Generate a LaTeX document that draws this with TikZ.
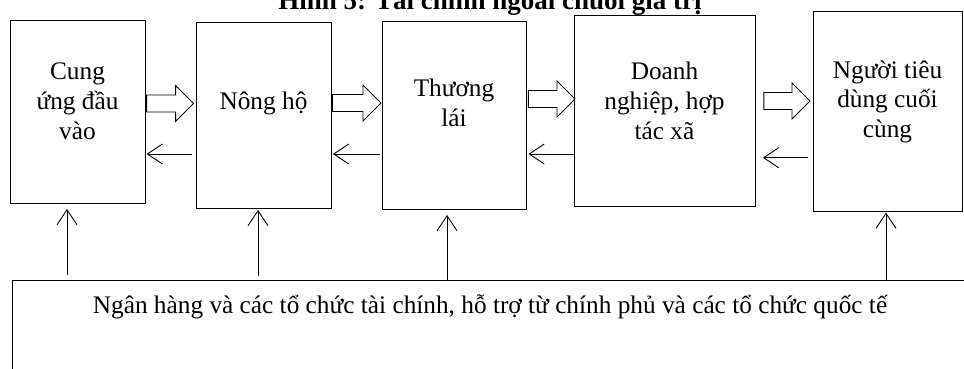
\documentclass[tikz,border=0pt]{standalone}
\usepackage{fontspec}
\setmainfont{Liberation Serif}
\usetikzlibrary{arrows.meta,calc}

\tikzset{
  box/.style={draw, line width=0.9pt, anchor=north west, inner sep=0pt},
  lbl/.style={align=center, font=\fontsize{25.3}{29.5}\selectfont, inner sep=0pt, anchor=base},
  thinarrow/.style={line width=0.9pt, -{Straight Barb[length=15pt,width=20pt,line width=0.9pt]}},
  fatbody/.style={draw, line width=0.9pt, fill=white, line join=miter},
}

% hollow block arrow from node #1 to node #2 at height #3,
% leaving gaps #4 (start) and #5 (tip)
\newcommand\fatarrow[5]{%
  \path (#1.east |- 0,#3) coordinate (fA) (#2.west |- 0,#3) coordinate (fB);
  \draw[fatbody] ($(fA)+(#4,-8.5)$) -- ($(fB)+(-#5-18,-8.5)$) -- ++(0,-9.5)
    -- ($(fB)+(-#5,0)$) -- ($(fB)+(-#5-18,18)$) -- ++(0,-9.5)
    -- ($(fA)+(#4,8.5)$) -- cycle;
}

\begin{document}
\begin{tikzpicture}[x=1pt,y=-1pt]
  \useasboundingbox (0,0) rectangle (964,369);
  \clip (0,0) rectangle (964,369);

  % title
  \node[font=\bfseries\fontsize{27}{30}\selectfont, anchor=base, inner sep=0pt] (title) at (490,10)
    {Hình 5: Tài chính ngoài chuỗi giá trị};

  % chain boxes
  \node[box, minimum width=135, minimum height=183] (b1) at (10,20) {};
  \node[box, minimum width=135, minimum height=186] (b2) at (196,22) {};
  \node[box, minimum width=144, minimum height=188] (b3) at (382,21) {};
  \node[box, minimum width=181, minimum height=191] (b4) at (574,15) {};
  \node[box, minimum width=149, minimum height=200] (b5) at (813,11) {};

  % labels (anchored on the baseline of their last line)
  \node[lbl] (t1) at (77.5,139) {Cung\\ứng đầu\\vào};
  \node[lbl] (t2) at (263.5,110) {Nông hộ};
  \node[lbl] (t3) at (454,126)  {Thương\\lái};
  \node[lbl] (t4) at (664.5,139) {Doanh\\nghiệp, hợp\\tác xã};
  \node[lbl] (t5) at (887.5,137) {Người tiêu\\dùng cuối\\cùng};

  % financing institutions
  \node[box, minimum width=1000, minimum height=120] (bank) at (12,280) {};
  \node[lbl] (banktxt) at (490,313)
    {Ngân hàng và các tổ chức tài chính, hỗ trợ từ chính phủ và các tổ chức quốc tế};

  % forward flows
  \fatarrow{b1}{b2}{103.5}{0.7}{2.4}
  \fatarrow{b2}{b3}{103}{0.5}{1}
  \fatarrow{b3}{b4}{99}{1.5}{-1}
  \fatarrow{b4}{b5}{101}{8}{3}

  % backward flows
  \draw[thinarrow, shorten <=4pt, shorten >=0.7pt] (b2.west |- 0,154) -- (b1.east |- 0,154);
  \draw[thinarrow, shorten <=2pt, shorten >=1pt]   (b3.west |- 0,154) -- (b2.east |- 0,154);
  \draw[thinarrow, shorten <=0pt, shorten >=1.5pt] (b4.west |- 0,154) -- (b3.east |- 0,154);
  \draw[thinarrow, shorten <=5pt, shorten >=7pt]   (b5.west |- 0,157.7) -- (b4.east |- 0,157.7);

  % support from the financing institutions
  \draw[thinarrow, shorten <=5pt, shorten >=5pt] (bank.north -| 67,0)  -- (b1.south -| 67,0);
  \draw[thinarrow, shorten <=4pt, shorten >=1pt] (bank.north -| 258,0) -- (b2.south -| 258,0);
  \draw[thinarrow, shorten >=5pt]                (bank.north -| 447,0) -- (b3.south -| 447,0);
  \draw[thinarrow, shorten >=0.7pt]              (bank.north -| 886,0) -- (b5.south -| 886,0);
\end{tikzpicture}
\end{document}
